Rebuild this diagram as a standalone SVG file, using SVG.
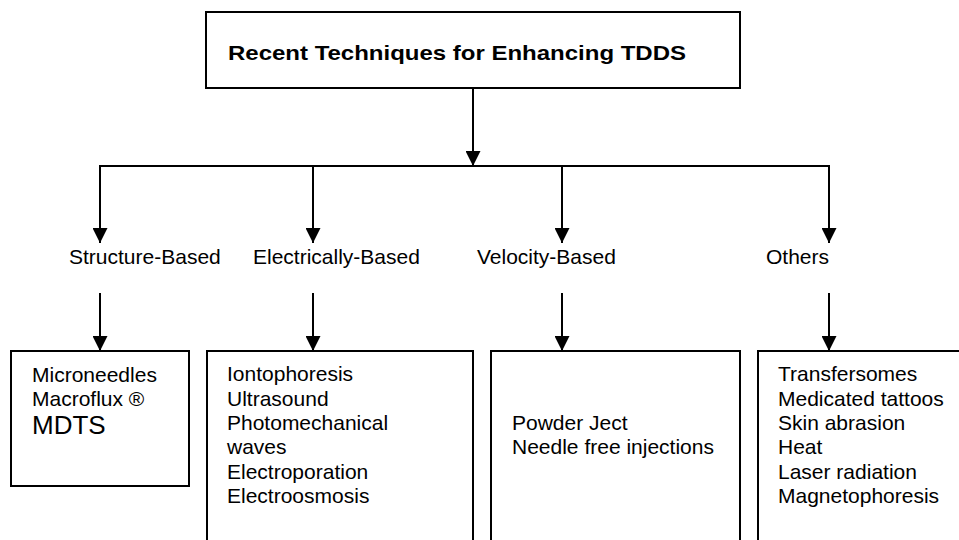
<svg xmlns="http://www.w3.org/2000/svg" width="959" height="540" viewBox="0 0 959 540">
<style>
.box{fill:#fff;stroke:#000;stroke-width:2}
.t{font-family:"Liberation Sans",Arial,sans-serif;font-size:21px;fill:#000}
.title{font-family:"Liberation Sans",Arial,sans-serif;font-size:21px;font-weight:bold;fill:#000}
.big{font-size:26px}
.c{stroke:#000;stroke-width:2;fill:none}
</style>
<defs>
<marker id="ah" viewBox="0 0 15 15" refX="15" refY="7.5" markerWidth="15" markerHeight="15" markerUnits="userSpaceOnUse" orient="auto">
<path d="M0,0 L15,7.5 L0,15 Z" fill="#000"/>
</marker>
</defs>
<rect width="959" height="540" fill="#fff"/>
<g id="connectors">
<line class="c" x1="473" y1="88" x2="473" y2="166" marker-end="url(#ah)"/>
<line class="c" x1="99" y1="166" x2="830" y2="166"/>
<line class="c" x1="100" y1="166" x2="100" y2="243" marker-end="url(#ah)"/>
<line class="c" x1="313" y1="166" x2="313" y2="243" marker-end="url(#ah)"/>
<line class="c" x1="562" y1="166" x2="562" y2="243" marker-end="url(#ah)"/>
<line class="c" x1="829" y1="166" x2="829" y2="243" marker-end="url(#ah)"/>
<line class="c" x1="100" y1="293" x2="100" y2="351" marker-end="url(#ah)"/>
<line class="c" x1="313" y1="293" x2="313" y2="351" marker-end="url(#ah)"/>
<line class="c" x1="562" y1="293" x2="562" y2="351" marker-end="url(#ah)"/>
<line class="c" x1="829" y1="293" x2="829" y2="351" marker-end="url(#ah)"/>
</g>
<g id="root">
<rect class="box" x="206" y="12" width="534" height="76"/>
<text class="title" x="228" y="60" textLength="458" lengthAdjust="spacingAndGlyphs">Recent Techniques for Enhancing TDDS</text>
</g>
<g id="structure-label"><text class="t" x="69" y="264">Structure-Based</text></g>
<g id="electrical-label"><text class="t" x="253" y="264">Electrically-Based</text></g>
<g id="velocity-label"><text class="t" x="477" y="264">Velocity-Based</text></g>
<g id="others-label"><text class="t" x="766" y="264">Others</text></g>
<g id="structure-box">
<rect class="box" x="11" y="351" width="178" height="135"/>
<text class="t" x="32" y="382">Microneedles</text>
<text class="t" x="32" y="406">Macroflux ®</text>
<text class="t big" x="32" y="434">MDTS</text>
</g>
<g id="electrical-box">
<rect class="box" x="207" y="351" width="266" height="220"/>
<text class="t" x="227" y="381">Iontophoresis</text>
<text class="t" x="227" y="406">Ultrasound</text>
<text class="t" x="227" y="430">Photomechanical</text>
<text class="t" x="227" y="454">waves</text>
<text class="t" x="227" y="479">Electroporation</text>
<text class="t" x="227" y="503">Electroosmosis</text>
</g>
<g id="velocity-box">
<rect class="box" x="491" y="351" width="249" height="220"/>
<text class="t" x="512" y="430">Powder Ject</text>
<text class="t" x="512" y="454">Needle free injections</text>
</g>
<g id="others-box">
<rect class="box" x="758" y="351" width="240" height="220"/>
<text class="t" x="778" y="381">Transfersomes</text>
<text class="t" x="778" y="406">Medicated tattoos</text>
<text class="t" x="778" y="430">Skin abrasion</text>
<text class="t" x="778" y="454">Heat</text>
<text class="t" x="778" y="479">Laser radiation</text>
<text class="t" x="778" y="503">Magnetophoresis</text>
</g>
</svg>
